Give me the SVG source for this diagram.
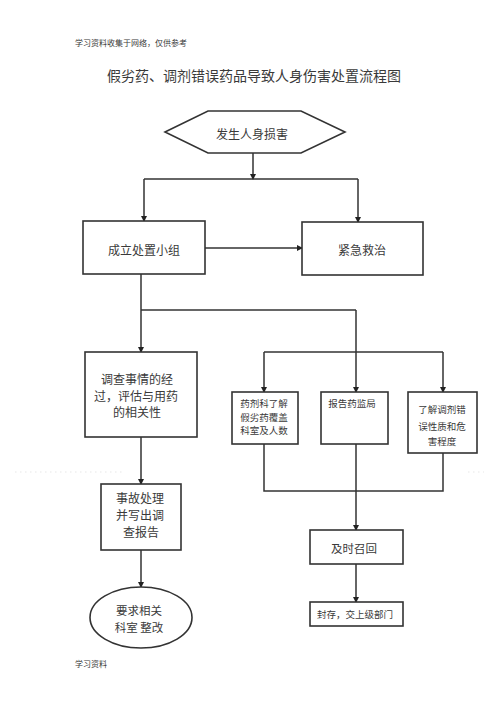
<svg xmlns="http://www.w3.org/2000/svg" width="500" height="708" viewBox="0 0 500 708">
<defs>
<marker id="ah" markerWidth="6" markerHeight="6" refX="5" refY="3" orient="auto" markerUnits="userSpaceOnUse">
<path d="M0,0 L6,3 L0,6 Z" fill="#222"/>
</marker>
<style>
.shape{fill:#fff;stroke:#333;stroke-width:1.6}
.line{fill:none;stroke:#333;stroke-width:1.5}
.arr{fill:none;stroke:#333;stroke-width:1.5;marker-end:url(#ah)}
text{font-family:"Noto Sans CJK SC","Liberation Serif",sans-serif;fill:#3a3a3a;text-anchor:middle;dominant-baseline:central}
.t12{font-size:12px}
.t11{font-size:11.5px}
.t9{font-size:9.5px}
.small{font-size:8px;text-anchor:start}
</style>
</defs>
<rect width="500" height="708" fill="#fff"/>
<text class="small" x="75" y="42">学习资料收集于网络，仅供参考</text>
<text x="254" y="75" style="font-size:14px">假劣药、调剂错误药品导致人身伤害处置流程图</text>
<text class="small" x="75" y="663">学习资料</text>
<line x1="15" y1="472" x2="125" y2="472" stroke="#ddd" stroke-width="0.7" stroke-dasharray="1.5,3.5"/>
<line x1="468" y1="472" x2="484" y2="472" stroke="#ddd" stroke-width="0.7" stroke-dasharray="1.5,3.5"/>
<g id="connectors">
<line class="arr" x1="253" y1="153" x2="253" y2="179"/>
<polyline class="line" points="144,179 358,179"/>
<line class="arr" x1="144" y1="179" x2="144" y2="221"/>
<line class="arr" x1="358" y1="179" x2="358" y2="222"/>
<line class="arr" x1="205" y1="248" x2="302" y2="248"/>
<line class="arr" x1="141" y1="274" x2="141" y2="352"/>
<polyline class="line" points="141,310 356,310"/>
<line class="arr" x1="356" y1="310" x2="356" y2="392"/>
<polyline class="line" points="264,352 443,352"/>
<line class="arr" x1="264" y1="352" x2="264" y2="392"/>
<line class="arr" x1="443" y1="352" x2="443" y2="392"/>
<line class="arr" x1="141" y1="437" x2="141" y2="484"/>
<line class="arr" x1="141" y1="550" x2="141" y2="587"/>
<polyline class="line" points="264,444 264,491 443,491 443,453"/>
<line class="arr" x1="356" y1="444" x2="356" y2="530"/>
<line class="arr" x1="356" y1="564" x2="356" y2="602"/>
</g>
<g id="n_start">
<polygon class="shape" points="165,132 208,111 301,111 345,132 301,153 208,153"/>
<text class="t12" x="252" y="133">发生人身损害</text>
</g>
<g id="n_group">
<rect class="shape" x="83" y="221" width="122" height="53"/>
<text class="t12" x="144" y="249">成立处置小组</text>
</g>
<g id="n_rescue">
<rect class="shape" x="302" y="222" width="121" height="53"/>
<text class="t12" x="362" y="249">紧急救治</text>
</g>
<g id="n_investigate">
<rect class="shape" x="85" y="352" width="112" height="85"/>
<text class="t12" x="137" y="378">调查事情的经</text>
<text class="t12" x="136" y="395">过，评估与用药</text>
<text class="t12" x="137" y="411">的相关性</text>
</g>
<g id="n_pharmacy">
<rect class="shape" x="232" y="392" width="66" height="52"/>
<text class="t9" x="264" y="403">药剂科了解</text>
<text class="t9" x="264" y="417">假劣药覆盖</text>
<text class="t9" x="264" y="430">科室及人数</text>
</g>
<g id="n_report">
<rect class="shape" x="321" y="392" width="67" height="52"/>
<text class="t9" x="352" y="403">报告药监局</text>
</g>
<g id="n_nature">
<rect class="shape" x="408" y="392" width="69" height="61"/>
<text class="t9" x="442" y="409">了解调剂错</text>
<text class="t9" x="442" y="426">误性质和危</text>
<text class="t9" x="442" y="441">害程度</text>
</g>
<g id="n_handle">
<rect class="shape" x="101" y="484" width="80" height="66"/>
<text class="t12" x="140" y="497">事故处理</text>
<text class="t12" x="140" y="514">并写出调</text>
<text class="t12" x="141" y="531">查报告</text>
</g>
<g id="n_rectify">
<ellipse class="shape" cx="141" cy="617.5" rx="51" ry="30.5"/>
<text class="t11" x="139" y="610">要求相关</text>
<text class="t11" x="139" y="627">科室 整改</text>
</g>
<g id="n_recall">
<rect class="shape" x="310" y="530" width="93" height="34"/>
<text class="t11" x="354" y="548">及时召回</text>
</g>
<g id="n_seal">
<rect class="shape" x="310" y="602" width="93" height="24"/>
<text class="t9" x="355" y="614">封存，交上级部门</text>
</g>
</svg>
